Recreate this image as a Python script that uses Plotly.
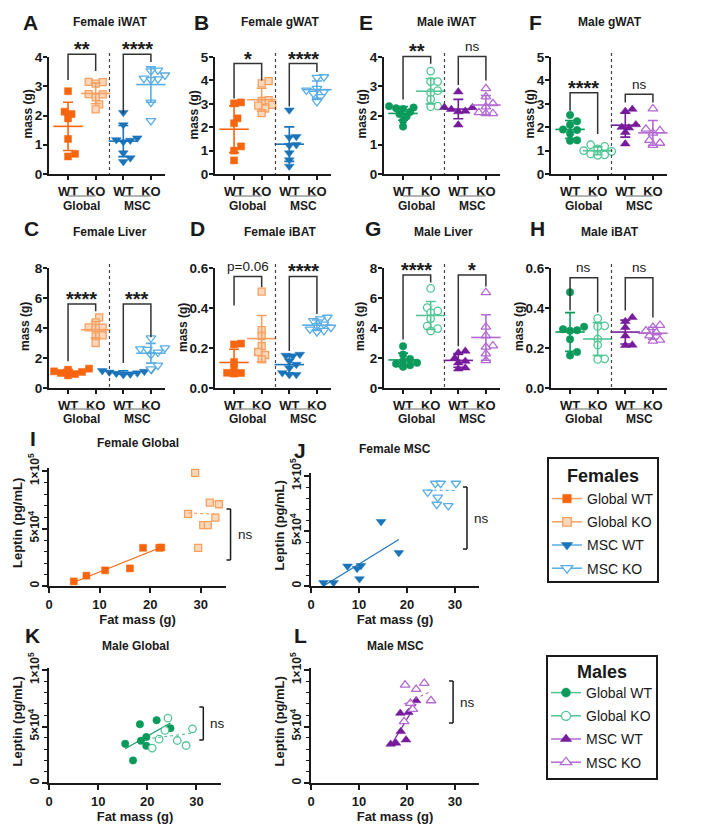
import numpy as np
import plotly.graph_objects as go

W, H = 708, 830
FONT = "Liberation Sans, Arial, sans-serif"
INK = "#1a1a1a"

# colours per genotype line: (solid, light, open-marker fill)
COL = {
    "f_glob": ("#F7650E", "#F8A062", "#FCD8BA"),
    "f_msc": ("#1B74BA", "#5AADE5", "#FFFFFF"),
    "m_glob": ("#0B9A5B", "#52C595", "#FFFFFF"),
    "m_msc": ("#761B9C", "#B36AD2", "#FFFFFF"),
}
SYM = {"f_glob": "square", "f_msc": "triangle-down", "m_glob": "circle", "m_msc": "triangle-up"}
MSIZE = {"square": 7, "circle": 7.5, "triangle-down": 8.5, "triangle-up": 8.5}

# ---- organ mass (g) ----
iwat_f_glob_wt = [2.83, 2.05, 2.13, 1.90, 1.20, 0.69, 0.60]
iwat_f_glob_ko = [3.15, 3.14, 3.09, 2.73, 2.72, 2.62, 2.38, 2.21]
iwat_f_msc_wt = [2.10, 1.68, 1.23, 1.17, 1.15, 1.10, 0.72, 0.55, 0.42]
iwat_f_msc_ko = [3.55, 3.52, 3.38, 3.27, 3.25, 3.22, 2.45, 1.82]

gwat_f_glob_wt = [3.06, 3.02, 2.38, 2.17, 1.18, 1.00, 0.58]
gwat_f_glob_ko = [3.97, 3.87, 3.16, 3.12, 2.95, 2.92, 2.80, 2.60]
gwat_f_msc_wt = [2.73, 1.60, 1.57, 1.25, 1.22, 0.90, 0.60, 0.33]
gwat_f_msc_ko = [4.15, 4.12, 3.65, 3.58, 3.51, 3.44, 3.30, 3.09]

iwat_m_glob_wt = [2.32, 2.27, 2.25, 2.22, 2.12, 2.05, 1.97, 1.82, 1.62]
iwat_m_glob_ko = [3.52, 3.16, 3.16, 2.85, 2.78, 2.55, 2.32, 2.30]
iwat_m_msc_wt = [2.81, 2.28, 2.27, 2.21, 2.15, 2.13, 1.68]
iwat_m_msc_ko = [2.92, 2.64, 2.41, 2.30, 2.10, 2.07, 2.07]

gwat_m_glob_wt = [2.52, 2.25, 2.11, 1.90, 1.88, 1.73, 1.44, 1.42]
gwat_m_glob_ko = [1.25, 1.18, 1.07, 1.00, 0.97, 0.86, 0.82, 0.80]
gwat_m_msc_wt = [2.77, 2.68, 2.11, 2.00, 1.97, 1.78, 1.29]
gwat_m_msc_ko = [2.79, 1.92, 1.86, 1.75, 1.44, 1.32, 1.23]

liver_f_glob_wt = [1.29, 1.22, 1.11, 1.07, 1.00, 0.93, 0.84]
liver_f_glob_ko = [4.71, 4.38, 4.04, 4.02, 4.00, 3.51, 3.44, 3.00]
liver_f_msc_wt = [1.20, 1.15, 1.10, 1.05, 1.00, 0.97, 0.92, 0.88]
liver_f_msc_ko = [3.33, 2.67, 2.60, 2.56, 2.38, 2.22, 1.51, 1.27]

ibat_f_glob_wt = [0.222, 0.218, 0.130, 0.100, 0.076, 0.075, 0.072]
ibat_f_glob_ko = [0.482, 0.289, 0.260, 0.210, 0.180, 0.165, 0.143]
ibat_f_msc_wt = [0.168, 0.163, 0.160, 0.135, 0.118, 0.100, 0.076, 0.067, 0.066]
ibat_f_msc_ko = [0.353, 0.345, 0.336, 0.319, 0.311, 0.303, 0.294, 0.287, 0.280]

liver_m_glob_wt = [2.79, 2.23, 1.94, 1.79, 1.68, 1.61, 1.52, 1.41]
liver_m_glob_ko = [6.64, 5.36, 5.14, 5.03, 4.63, 4.13, 3.96, 3.80]
liver_m_msc_wt = [2.46, 2.35, 2.00, 1.79, 1.68, 1.34, 1.27]
liver_m_msc_ko = [6.37, 4.07, 3.49, 2.82, 2.73, 2.28, 1.83]

ibat_m_glob_wt = [0.479, 0.306, 0.294, 0.289, 0.286, 0.244, 0.180, 0.163]
ibat_m_glob_ko = [0.348, 0.311, 0.308, 0.244, 0.215, 0.146, 0.143]
ibat_m_msc_wt = [0.353, 0.333, 0.303, 0.261, 0.215, 0.213]
ibat_m_msc_ko = [0.314, 0.303, 0.286, 0.277, 0.261, 0.240, 0.235]

# ---- leptin (pg/mL) vs fat mass (g) ----
fg_wt_fat = [4.9, 7.4, 11.1, 16.0, 18.6, 21.8, 22.2]
fg_wt_lep = [4000, 9000, 13600, 15300, 33200, 33200, 33500]
fg_ko_fat = [28.9, 31.8, 33.6, 27.5, 32.9, 30.5, 31.4, 29.5]
fg_ko_lep = [98300, 72500, 71100, 62700, 59500, 52900, 52900, 33200]

fm_wt_fat = [2.6, 4.7, 7.6, 9.6, 10.1, 10.4, 14.6, 18.3]
fm_wt_lep = [3000, 3000, 18000, 15800, 6500, 18500, 58500, 30300]
fm_ko_fat = [26.3, 25.9, 27.0, 30.2, 24.3, 26.4, 26.2, 28.6]
fm_ko_lep = [103000, 93300, 93300, 93300, 85200, 80600, 74200, 73000]

mg_wt_fat = [15.5, 17.1, 18.5, 18.7, 19.8, 19.8, 21.9, 24.7]
mg_wt_lep = [34700, 20000, 52000, 37400, 40600, 32900, 55600, 48500]
mg_ko_fat = [21.0, 22.4, 23.6, 24.2, 26.1, 27.9, 29.2]
mg_ko_lep = [30900, 38800, 46500, 57400, 37600, 33200, 47900]

mm_wt_fat = [16.6, 17.7, 18.6, 18.7, 19.8, 20.3, 21.1, 21.9]
mm_wt_lep = [34400, 35300, 61800, 45600, 38200, 62400, 65600, 72900]
mm_ko_fat = [19.6, 21.9, 23.6, 25.0, 20.7, 21.2, 19.4]
mm_ko_lep = [86800, 82900, 88200, 72900, 70600, 65300, 54400]

tick_cats = ["WT", "KO", "WT", "KO"]
legend_names = ["Global WT", "Global KO", "MSC WT", "MSC KO"]

# panel layout (pixels) + significance brackets (top, left leg, right leg, label)
dot_panels = [
    dict(letter="A", title="Female iWAT", sex="f", xl=49, row=0, ymax=4, dtick=1, fmt="d", tx=110, lx=21, yl=28,
         groups=[iwat_f_glob_wt, iwat_f_glob_ko, iwat_f_msc_wt, iwat_f_msc_ko],
         br=[(4.09, 3.21, 3.52, "**"), (4.09, 2.08, 3.83, "****")]),
    dict(letter="B", title="Female gWAT", sex="f", xl=215, row=0, ymax=5, dtick=1, fmt="d", tx=280, lx=192, yl=194,
         groups=[gwat_f_glob_wt, gwat_f_glob_ko, gwat_f_msc_wt, gwat_f_msc_ko],
         br=[(4.72, 3.23, 4.0, "*"), (4.72, 2.88, 4.36, "****")]),
    dict(letter="E", title="Male iWAT", sex="m", xl=384, row=0, ymax=4, dtick=1, fmt="d", tx=447, lx=357, yl=362,
         groups=[iwat_m_glob_wt, iwat_m_glob_ko, iwat_m_msc_wt, iwat_m_msc_ko],
         br=[(4.02, 2.55, 3.77, "**"), (4.02, 3.04, 3.2, "ns")]),
    dict(letter="F", title="Male gWAT", sex="m", xl=551, row=0, ymax=5, dtick=1, fmt="d", tx=610, lx=527, yl=530,
         groups=[gwat_m_glob_wt, gwat_m_glob_ko, gwat_m_msc_wt, gwat_m_msc_ko],
         br=[(3.47, 2.7, 1.71, "****"), (3.41, 3.06, 3.06, "ns")]),
    dict(letter="C", title="Female Liver", sex="f", xl=49, row=1, ymax=8, dtick=2, fmt="d", tx=110, lx=22, yl=25,
         groups=[liver_f_glob_wt, liver_f_glob_ko, liver_f_msc_wt, liver_f_msc_ko],
         br=[(5.6, 1.78, 5.11, "****"), (5.6, 1.67, 3.38, "***")]),
    dict(letter="D", title="Female iBAT", sex="f", xl=215, row=1, ymax=0.6, dtick=0.2, fmt=".1f", tx=280, lx=188,
         yl=183, groups=[ibat_f_glob_wt, ibat_f_glob_ko, ibat_f_msc_wt, ibat_f_msc_ko],
         br=[(0.558, 0.412, 0.504, "p=0.06"), (0.558, 0.185, 0.37, "****")]),
    dict(letter="G", title="Male Liver", sex="m", xl=384, row=1, ymax=8, dtick=2, fmt="d", tx=443, lx=363, yl=360,
         groups=[liver_m_glob_wt, liver_m_glob_ko, liver_m_msc_wt, liver_m_msc_ko],
         br=[(7.53, 3.24, 7.04, "****"), (7.53, 2.79, 6.77, "*")]),
    dict(letter="H", title="Male iBAT", sex="m", xl=551, row=1, ymax=0.6, dtick=0.2, fmt=".1f", tx=610, lx=528,
         yl=519, groups=[ibat_m_glob_wt, ibat_m_glob_ko, ibat_m_msc_wt, ibat_m_msc_ko],
         br=[(0.551, 0.387, 0.378, "ns"), (0.551, 0.387, 0.353, "ns")]),
]
ROWS = [dict(yt=57, yb=174, title_y=22, letter_y=22, ul_y=196, grp_y=206),
        dict(yt=268, yb=388, title_y=232, letter_y=228, ul_y=409, grp_y=419)]

sc_panels = [
    dict(letter="I", title="Female Global", key="f_glob", xl=49, xr=226, yb=586, y100=471, yt=468,
         tx=138, ty=443, lx=28, ly=438, yl=17, wt=(fg_wt_fat, fg_wt_lep), ko=(fg_ko_fat, fg_ko_lep),
         br=(35.9, 66957, 22609)),
    dict(letter="J", title="Female MSC", key="f_msc", xl=311, xr=479, yb=586, y100=476, yt=473,
         tx=395, ty=449, lx=292, ly=450, yl=279, wt=(fm_wt_fat, fm_wt_lep), ko=(fm_ko_fat, fm_ko_lep),
         br=(32.5, 90000, 33600)),
    dict(letter="K", title="Male Global", key="m_glob", xl=49, xr=221, yb=783, y100=670, yt=668,
         tx=135, ty=646, lx=23, ly=635, yl=17, wt=(mg_wt_fat, mg_wt_lep), ko=(mg_ko_fat, mg_ko_lep),
         br=(31.4, 67256, 38053)),
    dict(letter="L", title="Male MSC", key="m_msc", xl=311, xr=479, yb=783, y100=670, yt=668,
         tx=395, ty=646, lx=292, ly=635, yl=279, wt=(mm_wt_fat, mm_wt_lep), ko=(mm_ko_fat, mm_ko_lep),
         br=(29.6, 90265, 53097)),
]
# legend boxes: left, top, right, bottom, title centre y, first item y
LEGENDS = [dict(name="legend", title="Females", box=(548, 458, 658, 582), title_y=476, item_y=499),
           dict(name="legend2", title="Males", box=(547, 656, 657, 779), title_y=672, item_y=693)]

XR = (-0.69, 3.51)
DOT_W = 116


def swarm(vals, ppu_y, ppu_x, size=7.0):
    # simple beeswarm: spread points that would overlap too much
    vals = np.asarray(vals, float)
    cands = [0.0]
    for k in range(1, 12):
        cands += [k * 0.5 * size, -k * 0.5 * size]
    placed, offs = [], np.zeros(len(vals))
    for i in np.argsort(vals):
        yp = vals[i] * ppu_y
        for c in cands:
            if all((c - a) ** 2 + (yp - b) ** 2 >= (0.8 * size) ** 2 for a, b in placed):
                break
        placed.append((c, yp))
        offs[i] = c / ppu_x
    return offs


def ax_style(**kw):
    d = dict(showline=True, linecolor=INK, linewidth=2, ticks="outside", tickcolor=INK, tickwidth=1.5,
             ticklen=5, showgrid=False, zeroline=False, fixedrange=True, automargin=False,
             tickfont=dict(family=FONT, size=13, color=INK, weight="bold"))
    d.update(kw)
    return d


fig = go.Figure()
layout, ann, shp = {}, [], []


def label(x, y, text, size, bold=True, xanchor="center", yanchor="middle", angle=0):
    ann.append(dict(x=x / W, y=1 - y / H, xref="paper", yref="paper", showarrow=False, textangle=angle,
                    text=f"<b>{text}</b>" if bold else text, xanchor=xanchor, yanchor=yanchor,
                    font=dict(family=FONT, size=size, color=INK)))


def line(x0, y0, x1, y1, color=INK, width=1.5, dash="solid"):
    shp.append(dict(type="line", xref="paper", yref="paper", x0=x0 / W, y0=1 - y0 / H, x1=x1 / W,
                    y1=1 - y1 / H, line=dict(color=color, width=width, dash=dash)))


def marker(key, ko):
    solid, light, fill = COL[key]
    return dict(symbol=SYM[key], size=MSIZE[SYM[key]], color=fill if ko else solid,
                line=dict(color=light if ko else solid, width=1.3 if ko else 0.5))


n = 0
for p in dot_panels:
    n += 1
    r = ROWS[p["row"]]
    xl, xr, yt, yb, ymax = p["xl"], p["xl"] + DOT_W, r["yt"], r["yb"], p["ymax"]
    ppu_x = DOT_W / (XR[1] - XR[0])
    ppu_y = (yb - yt) / ymax
    fx = lambda v: xl + (v - XR[0]) * ppu_x
    fy = lambda v: yb - v * ppu_y
    keys = [p["sex"] + "_glob"] * 2 + [p["sex"] + "_msc"] * 2
    for i, vals in enumerate(p["groups"]):
        solid, light, fill = COL[keys[i]]
        ko = i % 2 == 1
        offs = swarm(vals, ppu_y, ppu_x)
        fig.add_trace(go.Scatter(x=i + offs, y=vals, mode="markers", marker=marker(keys[i], ko),
                                 cliponaxis=False, xaxis=f"x{n}", yaxis=f"y{n}", showlegend=False))
        ec = light if ko else solid
        fig.add_trace(go.Scatter(
            x=[i], y=[np.mean(vals)], mode="markers", cliponaxis=False,
            marker=dict(symbol="line-ew", size=21, line=dict(color=ec, width=1.6)),
            error_y=dict(type="data", array=[np.std(vals, ddof=1)], color=ec, thickness=1.6, width=5),
            xaxis=f"x{n}", yaxis=f"y{n}", showlegend=False))
    layout[f"xaxis{n}"] = ax_style(domain=[xl / W, xr / W], anchor=f"y{n}", range=list(XR),
                                   tickmode="array", tickvals=[0, 1, 2, 3], ticktext=tick_cats, ticklen=4)
    layout[f"yaxis{n}"] = ax_style(domain=[1 - yb / H, 1 - yt / H], anchor=f"x{n}", range=[0, ymax],
                                   dtick=p["dtick"], tickformat=p["fmt"], ticklen=4, ticklabelstandoff=-2,
                                   tickfont=dict(family=FONT, size=13.5, color=INK, weight="bold"))
    label(p["yl"], (yt + yb) / 2 - 1, "mass (g)", 12, angle=-90)
    # separator, group labels
    line(fx(1.5), yt - 4, fx(1.5), yb, color="#444", width=1.2, dash="dot")
    for a, g in ((0, "Global"), (2, "MSC")):
        line(fx(a), r["ul_y"], fx(a + 1), r["ul_y"], color="#9a9a9a", width=1.5)
        label(fx(a + 0.5), r["grp_y"], g, 12)
    # brackets
    for j, (top, lft, rgt, txt) in enumerate(p["br"]):
        a, b = 2 * j, 2 * j + 1
        shp.append(dict(type="path", xref="paper", yref="paper", line=dict(color="#333", width=1.5),
                        path=f"M{fx(a)/W},{1-fy(lft)/H} L{fx(a)/W},{1-fy(top)/H} "
                             f"L{fx(b)/W},{1-fy(top)/H} L{fx(b)/W},{1-fy(rgt)/H}"))
        if txt.startswith("*"):
            label(fx(a + 0.5), fy(top) - 5, txt, 20)
        else:
            label(fx(a + 0.5), fy(top) - 10, txt, 13.5, bold=False)
    label(p["tx"], r["title_y"], p["title"], 12)
    label(p["lx"], r["letter_y"], p["letter"], 21, xanchor="left")

sc_axes = []
for p in sc_panels:
    n += 1
    sc_axes.append(n)
    xl, xr, yb, yt = p["xl"], p["xr"], p["yb"], p["yt"]
    ytop = 1e5 * (yb - yt) / (yb - p["y100"])
    fx = lambda v: xl + v / 35 * (xr - xl)
    fy = lambda v: yb - v / ytop * (yb - yt)
    solid, light, fill = COL[p["key"]]
    for (fat, lep), ko in ((p["wt"], False), (p["ko"], True)):
        fig.add_trace(go.Scatter(x=fat, y=lep, mode="markers", marker=marker(p["key"], ko), cliponaxis=False,
                                 xaxis=f"x{n}", yaxis=f"y{n}", showlegend=False))
        slope, icpt = np.polyfit(fat, lep, 1)
        xs = np.array([min(fat), max(fat)])
        fig.add_trace(go.Scatter(x=xs, y=slope * xs + icpt, mode="lines",
                                 line=dict(color=light if ko else solid, width=1.1, dash="dot" if ko else "solid"),
                                 xaxis=f"x{n}", yaxis=f"y{n}", showlegend=False, hoverinfo="skip"))
    layout[f"xaxis{n}"] = ax_style(domain=[xl / W, xr / W], anchor=f"y{n}", range=[0, 35],
                                   tickvals=[0, 10, 20, 30],
                                   title=dict(text="Fat mass (g)", standoff=4,
                                              font=dict(family=FONT, size=13, color=INK, weight="bold")))
    layout[f"yaxis{n}"] = ax_style(domain=[1 - yb / H, 1 - yt / H], anchor=f"x{n}", range=[0, ytop],
                                   tickvals=[0, 5e4, 1e5], ticktext=["0", "5×10<sup>4</sup>", "1×10<sup>5</sup>"],
                                   tickangle=-90, ticklabelstandoff=-2,
                                   tickfont=dict(family=FONT, size=12, color=INK, weight="bold"),
                                   minor=dict(dtick=1e4, tick0=0, ticklen=3, tickwidth=1.2, tickcolor=INK,
                                              ticks="outside"))
    label(p["yl"], (yt + yb) / 2 - 4, "Leptin (pg/mL)", 13, angle=-90)
    bx, b0, b1 = p["br"]
    line(fx(bx), fy(b0), fx(bx), fy(b1), width=1.5)
    line(fx(bx) - 4, fy(b0), fx(bx), fy(b0), width=1.5)
    line(fx(bx) - 4, fy(b1), fx(bx), fy(b1), width=1.5)
    label(fx(bx) + 5, (fy(b0) + fy(b1)) / 2, "ns", 13.5, bold=False, xanchor="left")
    label(p["tx"], p["ty"], p["title"], 12)
    label(p["lx"], p["ly"], p["letter"], 21, xanchor="left")

# legends: plotly legend for the keys, box and title drawn around it
for lg, keys, ax in zip(LEGENDS, (["f_glob", "f_msc"], ["m_glob", "m_msc"]), (sc_axes[0], sc_axes[2])):
    names = iter(legend_names)
    for key in keys:
        solid, light, fill = COL[key]
        for ko in (False, True):
            nm = next(names)
            mk = marker(key, ko)
            mk["size"] += 1.5
            fig.add_trace(go.Scatter(
                x=[None], y=[None], mode="lines+markers", name=nm, legend=lg["name"],
                legendgroup=lg["name"] + nm, line=dict(color=light, width=1.5), marker=mk,
                xaxis=f"x{ax}", yaxis=f"y{ax}"))
    x0, y0, x1, y1 = lg["box"]
    shp.append(dict(type="rect", xref="paper", yref="paper", x0=x0 / W, x1=x1 / W, y0=1 - y0 / H,
                    y1=1 - y1 / H, line=dict(color=INK, width=2)))
    label((x0 + x1) / 2, lg["title_y"], lg["title"], 18)
    layout[lg["name"]] = dict(x=(x0 - 1) / W, y=1 - (lg["item_y"] - 16) / H, xanchor="left", yanchor="top",
                              bgcolor="rgba(0,0,0,0)", borderwidth=0, itemwidth=30, tracegroupgap=2,
                              font=dict(family=FONT, size=14, color=INK))

fig.update_layout(width=W, height=H, margin=dict(l=0, r=0, t=0, b=0, autoexpand=False), paper_bgcolor="white",
                  plot_bgcolor="white", showlegend=True, annotations=ann, shapes=shp,
                  font=dict(family=FONT, color=INK), **layout)
fig.write_html("out.html", config={"displayModeBar": False},
               post_script="document.body.style.margin='0';")
